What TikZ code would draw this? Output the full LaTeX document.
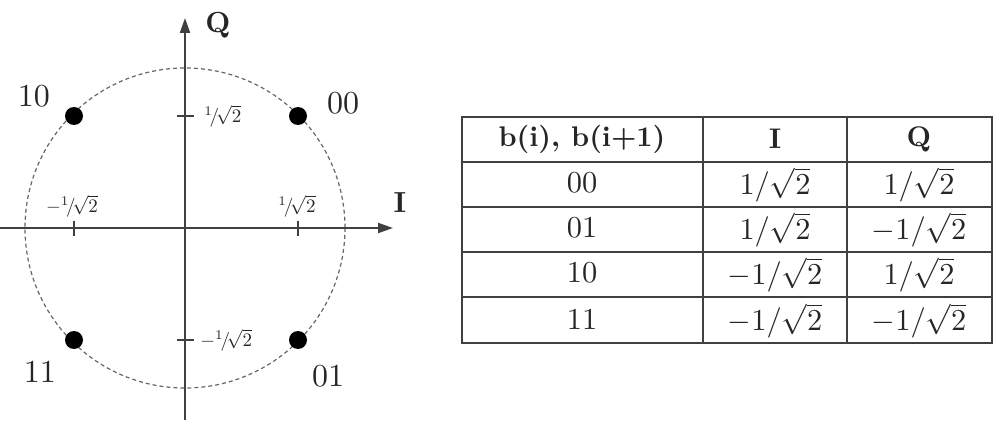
\documentclass[tikz,border=0pt]{standalone}
\usetikzlibrary{arrows.meta}
\newcommand{\tkfrac}[1]{$#1{}^{1}\!/\!\sqrt{2}$}
\begin{document}
\begin{tikzpicture}[x=0.5pt,y=-0.5pt,
  axis/.style={draw=black!75, line width=1pt, -{Triangle[length=7.5pt,width=5pt]}},
  tick/.style={draw=black!75, line width=0.9pt},
  circ/.style={draw=black!60, line width=0.6pt, dash pattern=on 2pt off 1.5pt},
  dot/.style={circle, fill=black, inner sep=0pt, minimum size=9pt},
  symlbl/.style={font=\normalsize, scale=1.6, text=black!85},
  axlbl/.style={font=\normalsize\bfseries, scale=1.45, text=black!85},
  ticklbl/.style={font=\normalsize, scale=0.95, text=black!85, inner sep=0pt},
  grid/.style={draw=black!75, line width=0.75pt},
  cell/.style={font=\normalsize, scale=1.52, text=black!85, inner sep=0pt},
  hcell/.style={font=\normalsize\bfseries, scale=1.42, text=black!85, inner sep=0pt}]
\useasboundingbox (0,0) rectangle (1003,444);
% circle
\coordinate (O) at (185,228);
\draw[circ] (O) circle[radius=160];
% axes
\coordinate (xl) at (0,228);
\coordinate (xr) at (393,228);
\coordinate (yb) at (185,420);
\coordinate (yt) at (185,18);
\draw[axis] (xl) -- (xr);
\draw[axis] (yb) -- (yt);
\node[axlbl] (Ql) at (218,25) {Q};
\node[axlbl] (Il) at (400,203) {I};
% ticks
\draw[tick] (74,221) -- (74,236);
\draw[tick] (298,221) -- (298,236);
\draw[tick] (177,116) -- (194,116);
\draw[tick] (177,340) -- (194,340);
\node[ticklbl] (tx1) at (72,206) {\tkfrac{-}};
\node[ticklbl] (tx2) at (297,206) {\tkfrac{}};
\node[ticklbl, anchor=west] (ty1) at (204,116) {\tkfrac{}};
\node[ticklbl, anchor=west] (ty2) at (200,340) {\tkfrac{-}};
% constellation points
\node[dot] (p10) at (74,116) {};
\node[dot] (p00) at (298,116) {};
\node[dot] (p11) at (74,340) {};
\node[dot] (p01) at (298,340) {};
\node[symlbl] (l10) at (34,96) {10};
\node[symlbl] (l00) at (343,103) {00};
\node[symlbl] (l11) at (40,372) {11};
\node[symlbl] (l01) at (328,376) {01};
% table
\draw[grid] (462,117) rectangle (992,343);
\foreach \yy in {162,207,252,297} \draw[grid] (462,\yy) -- (992,\yy);
\draw[grid] (703,117) -- (703,343);
\draw[grid] (847,117) -- (847,343);
\node[hcell] (h1) at (582,139) {b(i), b(i+1)};
\node[hcell] (h2) at (775,139) {I};
\node[hcell] (h3) at (919,139) {Q};
\node[cell] (r1a) at (582,183) {00};
\node[cell] (r1b) at (775,185) {$1/\sqrt{2}$};
\node[cell] (r1c) at (919,185) {$1/\sqrt{2}$};
\node[cell] (r2a) at (582,228) {01};
\node[cell] (r2b) at (775,230) {$1/\sqrt{2}$};
\node[cell] (r2c) at (919,230) {$-1/\sqrt{2}$};
\node[cell] (r3a) at (582,273) {10};
\node[cell] (r3b) at (775,275) {$-1/\sqrt{2}$};
\node[cell] (r3c) at (919,275) {$1/\sqrt{2}$};
\node[cell] (r4a) at (582,319) {11};
\node[cell] (r4b) at (775,321) {$-1/\sqrt{2}$};
\node[cell] (r4c) at (919,321) {$-1/\sqrt{2}$};
\end{tikzpicture}
\end{document}
